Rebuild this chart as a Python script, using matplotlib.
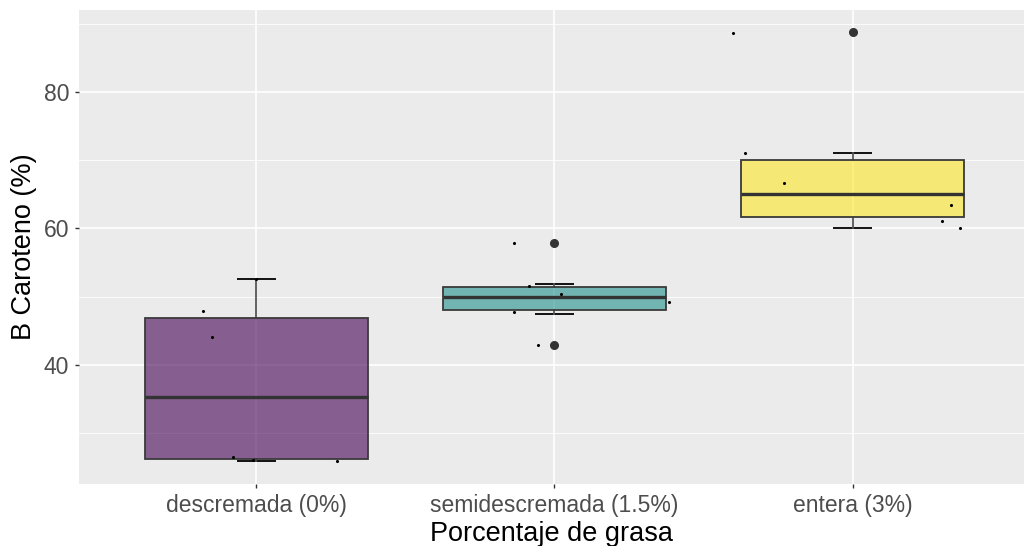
import matplotlib.pyplot as plt
from matplotlib import cbook

plt.rcParams['font.family'] = ['Liberation Sans', 'DejaVu Sans']

# Datos: beta caroteno por tipo de leche
grupos = ["descremada (0%)", "semidescremada (1.5%)", "entera (3%)"]
descremada = [25.9, 26.0, 26.5, 44.0, 47.9, 52.6]
semidescremada = [42.9, 47.45, 49.8, 50.1, 51.8, 57.9]
entera = [60.1, 61.3, 63.0, 67.2, 71.0, 88.8]
valores = [descremada, semidescremada, entera]

# puntos con jitter (desplazamiento horizontal y valor mostrado)
jitter_dx = [
    [-0.18, -0.15, -0.08, -0.01, 0.27, 0.0],
    [-0.136, -0.087, 0.023, 0.385, -0.136, -0.056],
    [-0.40, -0.36, -0.23, 0.33, 0.30, 0.36],
]
jitter_y = [
    [47.9, 44.0, 26.5, 26.0, 25.9, 52.6],
    [57.9, 51.5, 50.4, 49.2, 47.8, 42.9],
    [88.7, 71.1, 66.6, 63.5, 61.1, 60.1],
]

colores = ["#440154", "#21908C", "#FDE725"]

fig = plt.figure(figsize=(10.24, 5.46), dpi=100)
ax = fig.add_axes([79 / 1024, 1 - 484 / 546, 1 - 79 / 1024, (484 - 10) / 546])
ax.set_facecolor("#EBEBEB")

posiciones = [1, 2, 3]
stats = cbook.boxplot_stats(valores, whis=1.5)

# barras de error en los extremos de los bigotes (debajo de la caja)
for p, s in zip(posiciones, stats):
    ax.hlines([s["whislo"], s["whishi"]], p - 0.065, p + 0.065,
              colors="black", linewidth=1.3, zorder=2)

bp = ax.bxp(stats, positions=posiciones, widths=0.75, patch_artist=True,
            showcaps=False,
            boxprops=dict(edgecolor="#3a3a3a", linewidth=1.3),
            medianprops=dict(color="#333333", linewidth=2.4),
            whiskerprops=dict(color="#555555", linewidth=1.3),
            flierprops=dict(marker="o", markerfacecolor="#333333",
                            markeredgecolor="#333333", markersize=5.5))
for caja, c in zip(bp["boxes"], colores):
    r, g, b = [int(c[i:i + 2], 16) / 255 for i in (1, 3, 5)]
    caja.set_facecolor((r, g, b, 0.6))
    caja.set_zorder(3)
for m in bp["medians"]:
    m.set_zorder(4)
for w in bp["whiskers"]:
    w.set_zorder(2.5)

for p, dx, yv in zip(posiciones, jitter_dx, jitter_y):
    ax.scatter([p + d for d in dx], yv, s=5, color="black", zorder=5,
               linewidths=0)

ax.set_xlim(0.405, 3.575)
ax.set_ylim(22.5, 92.05)
ax.set_xticks(posiciones)
ax.set_xticklabels(grupos)
ax.set_yticks([40, 60, 80])
ax.set_yticks([30, 50, 70, 90], minor=True)

ax.grid(True, which="major", color="white", linewidth=1.2, zorder=0)
ax.grid(True, which="minor", axis="y", color="white", linewidth=0.6, zorder=0)
ax.set_axisbelow(True)
for lado in ax.spines.values():
    lado.set_visible(False)

ax.tick_params(axis="both", which="major", length=3, width=1, color="#333333",
               labelsize=16.5, labelcolor="#4D4D4D", pad=4)
ax.tick_params(axis="both", which="minor", length=0)

ax.set_xlabel("Porcentaje de grasa", fontsize=19.5, color="black", labelpad=3)
ax.set_ylabel("B Caroteno (%)", fontsize=19.5, color="black", labelpad=5)

fig.savefig("out.png", dpi=100)
